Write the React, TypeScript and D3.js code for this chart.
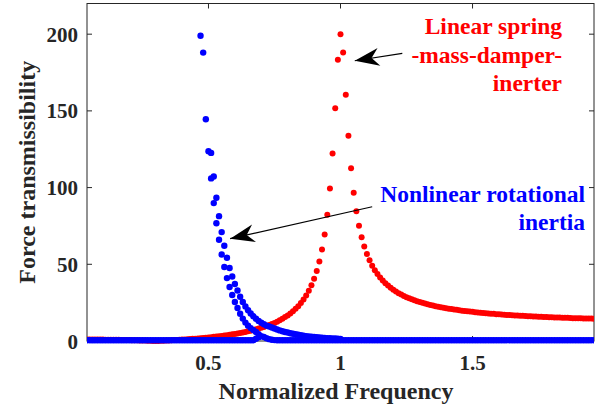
import React from 'react';
import * as d3 from 'd3';

// sampling grid of the normalized frequency (0.04 ... 1.96, step 0.01)
const freqGrid = d3.range(4, 197).map(i => i / 100);

// linear spring-mass-damper-inerter, one value per grid frequency
const redValues = [
  0.98, 0.98, 0.96, 0.95, 0.94, 0.92, 0.9, 0.88, 0.85, 0.83,
  0.8, 0.77, 0.74, 0.7, 0.67, 0.63, 0.58, 0.54, 0.49, 0.44,
  0.39, 0.33, 0.28, 0.21, 0.15, 0.08, 0.01, 0.06, 0.14, 0.22,
  0.31, 0.4, 0.49, 0.59, 0.69, 0.79, 0.91, 1.02, 1.14, 1.27,
  1.4, 1.54, 1.68, 1.84, 1.99, 2.16, 2.33, 2.52, 2.71, 2.91,
  3.12, 3.34, 3.57, 3.81, 4.07, 4.34, 4.63, 4.93, 5.24, 5.58,
  5.94, 6.32, 6.72, 7.15, 7.6, 8.09, 8.59, 9.15, 9.74, 10.4,
  11.1, 11.8, 12.6, 13.5, 14.5, 15.6, 16.7, 18.0, 19.4, 21.0,
  22.7, 24.8, 27.0, 29.7, 32.7, 36.3, 40.5, 45.6, 51.8, 59.6,
  69.5, 82.3, 99.4, 122.3, 151.8, 183.3, 200.0, 188.1, 160.5, 133.8,
  112.6, 96.6, 84.5, 75.1, 67.6, 61.6, 56.7, 52.6, 49.1, 46.2,
  43.6, 41.4, 39.4, 37.6, 36.1, 34.7, 33.4, 32.3, 31.2, 30.3,
  29.4, 28.6, 27.9, 27.2, 26.5, 25.9, 25.4, 24.9, 24.4, 23.9,
  23.5, 23.1, 22.7, 22.3, 22.0, 21.7, 21.4, 21.1, 20.8, 20.5,
  20.3, 20.0, 19.8, 19.6, 19.4, 19.2, 19.0, 18.8, 18.6, 18.4,
  18.3, 18.1, 18.0, 17.8, 17.7, 17.5, 17.4, 17.3, 17.1, 17.0,
  16.9, 16.8, 16.7, 16.6, 16.5, 16.4, 16.3, 16.2, 16.1, 16.0,
  15.9, 15.8, 15.8, 15.7, 15.6, 15.5, 15.5, 15.4, 15.3, 15.3,
  15.2, 15.1, 15.1, 15.0, 14.9, 14.9, 14.8, 14.8, 14.7, 14.7,
  14.6, 14.6, 14.5,
];

// nonlinear rotational inertia: small-amplitude branch on the same grid
const blueFlatValues = [
  0.5, 0.5, 0.5, 0.5, 0.5, 0.5, 0.5, 0.5, 0.5, 0.5,
  0.5, 0.5, 0.5, 0.5, 0.5, 0.5, 0.5, 0.5, 0.5, 0.5,
  0.5, 0.5, 0.5, 0.5, 0.5, 0.5, 0.5, 0.5, 0.5, 0.5,
  0.5, 0.5, 0.5, 0.5, 0.5, 0.5, 0.5, 0.5, 0.5, 0.5,
  0.5, 0.5, 0.5, 0.5, 0.5, 0.5, 0.5, 0.5, 0.5, 0.5,
  0.5, 0.5, 0.5, 0.5, 0.5, 0.5, 0.5, 0.5, 0.5, 0.5,
  0.5, 0.5, 0.5, 0.5, 1.5, 2.5, 3.2, 2.6, 1.8, 1.2,
  0.8, 0.6, 0.5, 0.5, 0.5, 0.5, 0.5, 0.5, 0.5, 0.5,
  0.5, 0.5, 0.5, 0.5, 0.5, 0.5, 0.5, 0.5, 0.5, 0.5,
  0.5, 0.5, 0.5, 0.5, 0.5, 0.5, 0.5, 0.5, 0.5, 0.5,
  0.5, 0.5, 0.5, 0.5, 0.5, 0.5, 0.5, 0.5, 0.5, 0.5,
  0.5, 0.5, 0.5, 0.5, 0.5, 0.5, 0.5, 0.5, 0.5, 0.5,
  0.5, 0.5, 0.5, 0.5, 0.5, 0.5, 0.5, 0.5, 0.5, 0.5,
  0.5, 0.5, 0.5, 0.5, 0.5, 0.5, 0.5, 0.5, 0.5, 0.5,
  0.5, 0.5, 0.5, 0.5, 0.5, 0.5, 0.5, 0.5, 0.5, 0.5,
  0.5, 0.5, 0.5, 0.5, 0.5, 0.5, 0.5, 0.5, 0.5, 0.5,
  0.5, 0.5, 0.5, 0.5, 0.5, 0.5, 0.5, 0.5, 0.5, 0.5,
  0.5, 0.5, 0.5, 0.5, 0.5, 0.5, 0.5, 0.5, 0.5, 0.5,
  0.5, 0.5, 0.5, 0.5, 0.5, 0.5, 0.5, 0.5, 0.5, 0.5,
  0.5, 0.5, 0.5,
];

// nonlinear rotational inertia: large-amplitude branches near the bent peak
const blueLeftFreq = [
  0.47, 0.48, 0.49, 0.5, 0.51, 0.52, 0.53, 0.54, 0.55, 0.56, 0.57, 0.58,
  0.59, 0.6, 0.61, 0.62, 0.63, 0.64, 0.65, 0.66, 0.67, 0.68, 0.69,
];
const blueLeftValues = [
  199, 188, 144.5, 123.7, 106.0, 89.9, 76.8, 66.0, 56.4, 48.2, 41.0, 35.2,
  30.0, 25.4, 21.5, 17.8, 14.6, 12.0, 10.0, 8.4, 7.1, 5.9, 4.5,
];
const blueRightFreq = [
  0.51, 0.52, 0.53, 0.54, 0.55, 0.56, 0.57, 0.58, 0.59, 0.6,
  0.61, 0.62, 0.63, 0.64, 0.65, 0.66, 0.67, 0.68, 0.69, 0.7,
  0.71, 0.72, 0.73, 0.74, 0.75, 0.76, 0.77, 0.78, 0.79, 0.8,
  0.81, 0.82, 0.83, 0.84, 0.85, 0.86, 0.87, 0.88, 0.89, 0.9,
  0.91, 0.92, 0.93, 0.94, 0.95, 0.96, 0.97, 0.98, 0.99, 1.0,
];
const blueRightValues = [
  122.6, 107.2, 93.4, 81.4, 71.0, 62.1, 54.3, 47.6, 42.0, 37.2,
  32.9, 28.8, 25.4, 22.5, 20.0, 17.9, 16.1, 14.5, 13.1, 11.9,
  10.9, 10.0, 9.5, 8.8, 8.1, 7.5, 6.9, 6.4, 5.9, 5.5,
  5.1, 4.7, 4.4, 4.1, 3.8, 3.5, 3.2, 3.0, 2.8, 2.6,
  2.4, 2.3, 2.1, 2.0, 1.9, 1.8, 1.7, 1.6, 1.5, 1.4,
];

const xTicks = [0.5, 1, 1.5];
const yTicks = [0, 50, 100, 150, 200];
const redLabel = ['Linear spring', '-mass-damper-', 'inerter'];
const blueLabel = ['Nonlinear rotational', 'inertia'];
// arrows in data units: [tail freq, tail value, tip freq, tip value]
const redArrow = [1.234, 187.5, 1.054, 182.7];
const blueArrow = [1.12, 87.5, 0.582, 66.7];

const RED = '#ff0000';
const BLUE = '#0000ff';
const AXIS = '#262626';
const FONT = "'Liberation Serif', 'Times New Roman', serif";

const width = 600;
const height = 410;
const plot = { left: 87, right: 594, top: 3.5, bottom: 341 };

const x = d3.scaleLinear().domain([0.04, 1.96]).range([plot.left, plot.right]);
const y = d3.scaleLinear().domain([0, 220]).range([plot.bottom, plot.top]);

const arrowHead = (a: number[]) => {
  const x1 = x(a[0]), y1 = y(a[1]), x2 = x(a[2]), y2 = y(a[3]);
  const len = Math.hypot(x1 - x2, y1 - y2);
  const ux = (x1 - x2) / len, uy = (y1 - y2) / len;
  const nx = -uy, ny = ux;
  const L = 24.5, W = 9, notch = 17;
  const p = [
    [x2, y2],
    [x2 + ux * L + nx * W, y2 + uy * L + ny * W],
    [x2 + ux * notch, y2 + uy * notch],
    [x2 + ux * L - nx * W, y2 + uy * L - ny * W],
  ];
  return 'M' + p.map(q => q.join(',')).join('L') + 'Z';
};

const Arrow = ({ a }: { a: number[] }) => (
  <g>
    <line x1={x(a[0])} y1={y(a[1])} x2={x(a[2])} y2={y(a[3])} stroke="#000" strokeWidth={1.2} />
    <path d={arrowHead(a)} fill="#000" />
  </g>
);

const Dots = ({ fs, vs, color, r }: { fs: number[]; vs: number[]; color: string; r: number }) => (
  <g fill={color}>
    {fs.map((f, i) => (
      <circle key={i} cx={x(f)} cy={y(vs[i])} r={r} />
    ))}
  </g>
);

export default function App() {
  return (
    <svg
      width={width}
      height={height}
      style={{ position: 'absolute', left: 0, top: 0, background: '#fff' }}
      fontFamily={FONT}
    >
      <defs>
        <clipPath id="plotClip">
          <rect x={plot.left} y={0} width={plot.right - plot.left} height={plot.bottom + 6} />
        </clipPath>
      </defs>

      {/* box and ticks */}
      <rect
        x={plot.left}
        y={plot.top}
        width={plot.right - plot.left}
        height={plot.bottom - plot.top}
        fill="none"
        stroke={AXIS}
        strokeWidth={1}
      />
      {yTicks.map(t => (
        <g key={'y' + t} stroke={AXIS}>
          <line x1={plot.left} x2={plot.left + 5} y1={y(t)} y2={y(t)} />
          <line x1={plot.right - 5} x2={plot.right} y1={y(t)} y2={y(t)} />
        </g>
      ))}
      {xTicks.map(t => (
        <g key={'x' + t} stroke={AXIS}>
          <line x1={x(t)} x2={x(t)} y1={plot.top} y2={plot.top + 5} />
          <line x1={x(t)} x2={x(t)} y1={plot.bottom} y2={plot.bottom - 5} />
        </g>
      ))}

      {/* series */}
      <g clipPath="url(#plotClip)">
        <Dots fs={freqGrid} vs={redValues} color={RED} r={3} />
        <Dots fs={freqGrid} vs={blueFlatValues} color={BLUE} r={3.2} />
        <Dots fs={blueRightFreq} vs={blueRightValues} color={BLUE} r={3.2} />
        <Dots fs={blueLeftFreq} vs={blueLeftValues} color={BLUE} r={3.2} />
      </g>

      {/* tick labels */}
      <g fontSize={21} fontWeight="bold" fill={AXIS}>
        {yTicks.map(t => (
          <text key={'yl' + t} x={78} y={y(t) + 7.5} textAnchor="end">
            {t}
          </text>
        ))}
        {xTicks.map(t => (
          <text key={'xl' + t} x={x(t)} y={370} textAnchor="middle">
            {t}
          </text>
        ))}
      </g>

      {/* axis titles */}
      <text x={336} y={399} textAnchor="middle" fontSize={24} fontWeight="bold" fill={AXIS}>
        Normalized Frequency
      </text>
      <text
        transform={`translate(35,${(plot.top + plot.bottom) / 2}) rotate(-90)`}
        textAnchor="middle"
        fontSize={24}
        fontWeight="bold"
        fill={AXIS}
      >
        Force transmissibility
      </text>

      {/* annotations */}
      <Arrow a={redArrow} />
      <Arrow a={blueArrow} />
      <g fontSize={23.5} fontWeight="bold" fill={RED} textAnchor="end">
        {redLabel.map((s, i) => (
          <text key={s} x={562} y={34.3 + i * 28.3}>
            {s}
          </text>
        ))}
      </g>
      <g fontSize={23.5} fontWeight="bold" fill={BLUE} textAnchor="end">
        {blueLabel.map((s, i) => (
          <text key={s} x={585} y={202.3 + i * 27.7}>
            {s}
          </text>
        ))}
      </g>
    </svg>
  );
}
